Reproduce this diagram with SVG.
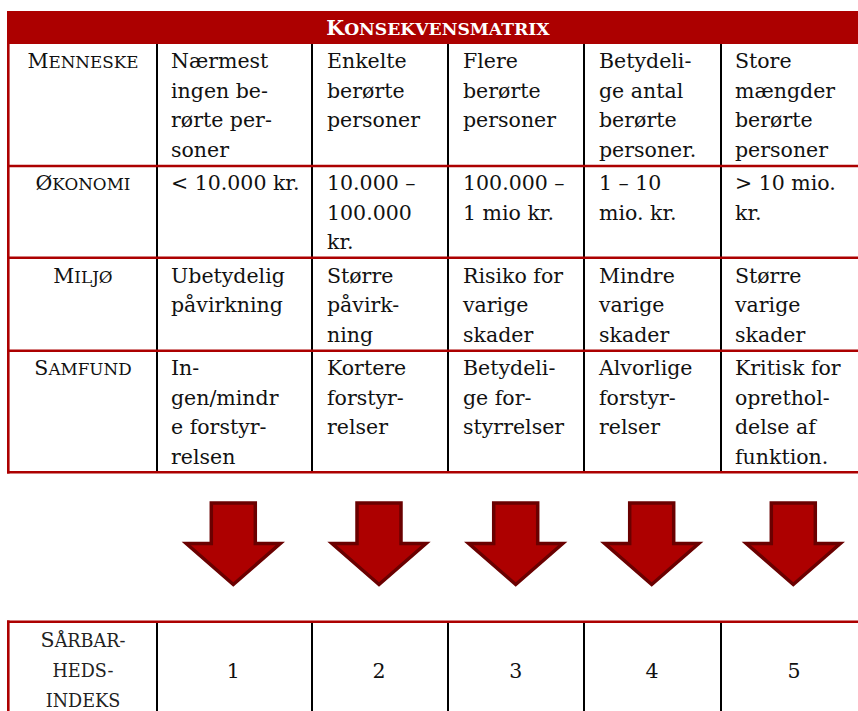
<svg xmlns="http://www.w3.org/2000/svg" xmlns:xlink="http://www.w3.org/1999/xlink" width="858" height="711" viewBox="0 0 858 711">
  <style>
    .t { font-family: "DejaVu Serif", "Liberation Serif", serif; font-size: 20.5px; fill: #111; }
    .sc { font-size: 16.8px; }
    .lbl { text-anchor: middle; }
    .head { font-family: "DejaVu Serif", "Liberation Serif", serif; font-size: 20.5px; font-weight: bold; fill: #fff; text-anchor: middle; }
    .head .sc { font-size: 17.2px; }
    .red { stroke: #ac0000; stroke-width: 2.6; fill: none; }
    .blk { stroke: #000; stroke-width: 2; fill: none; }
    .num { text-anchor: middle; }
    .idx { fill: #222; }
    .idx .sc { font-size: 17.6px; }
    .arrow { fill: #ad0000; stroke: #6a0000; stroke-width: 3.5; stroke-linejoin: miter; }
  </style>
  <defs>
    <path id="down" class="arrow" d="M-22,503 H22 V543.5 H47 L0,584.5 L-47,543.5 H-22 Z"/>
  </defs>
  <rect width="858" height="711" fill="#fff"/>

  <!-- title band -->
  <g id="title">
    <rect x="7" y="11" width="851" height="33" fill="#ac0000"/>
    <text class="head" x="438" y="35">K<tspan class="sc">ONSEKVENSMATRIX</tspan></text>
  </g>

  <!-- grid of the consequence matrix -->
  <g id="matrix-grid">
    <line class="blk" x1="157" y1="44" x2="157" y2="472"/>
    <line class="blk" x1="312" y1="44" x2="312" y2="472"/>
    <line class="blk" x1="448" y1="44" x2="448" y2="472"/>
    <line class="blk" x1="584" y1="44" x2="584" y2="472"/>
    <line class="blk" x1="721" y1="44" x2="721" y2="472"/>
    <line class="red" x1="7" y1="166" x2="858" y2="166"/>
    <line class="red" x1="7" y1="257.7" x2="858" y2="257.7"/>
    <line class="red" x1="7" y1="350.7" x2="858" y2="350.7"/>
    <line class="red" x1="7" y1="472.3" x2="858" y2="472.3"/>
    <line class="red" x1="8.3" y1="11" x2="8.3" y2="473.6"/>
  </g>

  <!-- row: people -->
  <g id="row-menneske">
    <text class="t lbl" x="83" y="68.3">M<tspan class="sc">ENNESKE</tspan></text>
    <text class="t" x="171" y="68.3">Nærmest<tspan x="171" dy="29.5">ingen be-</tspan><tspan x="171" dy="29.5">rørte per-</tspan><tspan x="171" dy="29.5">soner</tspan></text>
    <text class="t" x="327" y="68.3">Enkelte<tspan x="327" dy="29.5">berørte</tspan><tspan x="327" dy="29.5">personer</tspan></text>
    <text class="t" x="463" y="68.3">Flere<tspan x="463" dy="29.5">berørte</tspan><tspan x="463" dy="29.5">personer</tspan></text>
    <text class="t" x="599" y="68.3">Betydeli-<tspan x="599" dy="29.5">ge antal</tspan><tspan x="599" dy="29.5">berørte</tspan><tspan x="599" dy="29.5">personer.</tspan></text>
    <text class="t" x="735" y="68.3">Store<tspan x="735" dy="29.5">mængder</tspan><tspan x="735" dy="29.5">berørte</tspan><tspan x="735" dy="29.5">personer</tspan></text>
  </g>

  <!-- row: economy -->
  <g id="row-okonomi">
    <text class="t lbl" x="83" y="190">Ø<tspan class="sc">KONOMI</tspan></text>
    <text class="t" x="171" y="190">&lt; 10.000 kr.</text>
    <text class="t" x="327" y="190">10.000 –<tspan x="327" dy="29.5">100.000</tspan><tspan x="327" dy="29.5">kr.</tspan></text>
    <text class="t" x="463" y="190">100.000 –<tspan x="463" dy="29.5">1 mio kr.</tspan></text>
    <text class="t" x="599" y="190">1 – 10<tspan x="599" dy="29.5">mio. kr.</tspan></text>
    <text class="t" x="735" y="190">&gt; 10 mio.<tspan x="735" dy="29.5">kr.</tspan></text>
  </g>

  <!-- row: environment -->
  <g id="row-miljo">
    <text class="t lbl" x="83" y="282.5">M<tspan class="sc">ILJØ</tspan></text>
    <text class="t" x="171" y="282.5">Ubetydelig<tspan x="171" dy="29.5">påvirkning</tspan></text>
    <text class="t" x="327" y="282.5">Større<tspan x="327" dy="29.5">påvirk-</tspan><tspan x="327" dy="29.5">ning</tspan></text>
    <text class="t" x="463" y="282.5">Risiko for<tspan x="463" dy="29.5">varige</tspan><tspan x="463" dy="29.5">skader</tspan></text>
    <text class="t" x="599" y="282.5">Mindre<tspan x="599" dy="29.5">varige</tspan><tspan x="599" dy="29.5">skader</tspan></text>
    <text class="t" x="735" y="282.5">Større<tspan x="735" dy="29.5">varige</tspan><tspan x="735" dy="29.5">skader</tspan></text>
  </g>

  <!-- row: society -->
  <g id="row-samfund">
    <text class="t lbl" x="83" y="375">S<tspan class="sc">AMFUND</tspan></text>
    <text class="t" x="171" y="375">In-<tspan x="171" dy="29.5">gen/mindr</tspan><tspan x="171" dy="29.5">e forstyr-</tspan><tspan x="171" dy="29.5">relsen</tspan></text>
    <text class="t" x="327" y="375">Kortere<tspan x="327" dy="29.5">forstyr-</tspan><tspan x="327" dy="29.5">relser</tspan></text>
    <text class="t" x="463" y="375">Betydeli-<tspan x="463" dy="29.5">ge for-</tspan><tspan x="463" dy="29.5">styrrelser</tspan></text>
    <text class="t" x="599" y="375">Alvorlige<tspan x="599" dy="29.5">forstyr-</tspan><tspan x="599" dy="29.5">relser</tspan></text>
    <text class="t" x="735" y="375">Kritisk for<tspan x="735" dy="29.5">oprethol-</tspan><tspan x="735" dy="29.5">delse af</tspan><tspan x="735" dy="29.5">funktion.</tspan></text>
  </g>

  <!-- arrows from each consequence column to its index -->
  <g id="connectors">
    <use xlink:href="#down" x="233.3"/>
    <use xlink:href="#down" x="379"/>
    <use xlink:href="#down" x="515.7"/>
    <use xlink:href="#down" x="651.7"/>
    <use xlink:href="#down" x="793.3"/>
  </g>

  <!-- vulnerability index row -->
  <g id="index-row">
    <line class="blk" x1="157" y1="621" x2="157" y2="711"/>
    <line class="blk" x1="312" y1="621" x2="312" y2="711"/>
    <line class="blk" x1="448" y1="621" x2="448" y2="711"/>
    <line class="blk" x1="584" y1="621" x2="584" y2="711"/>
    <line class="blk" x1="721" y1="621" x2="721" y2="711"/>
    <line class="red" x1="7" y1="621.7" x2="858" y2="621.7"/>
    <line class="red" x1="8.3" y1="620.4" x2="8.3" y2="711"/>
    <text class="t lbl idx" x="83" y="646.5">S<tspan class="sc">ÅRBAR-</tspan><tspan class="sc" x="83" dy="30">HEDS-</tspan><tspan class="sc" x="83" dy="30">INDEKS</tspan></text>
    <text class="t num" x="233.3" y="678">1</text>
    <text class="t num" x="379" y="678">2</text>
    <text class="t num" x="515.7" y="678">3</text>
    <text class="t num" x="652" y="678">4</text>
    <text class="t num" x="794" y="678">5</text>
  </g>
</svg>
